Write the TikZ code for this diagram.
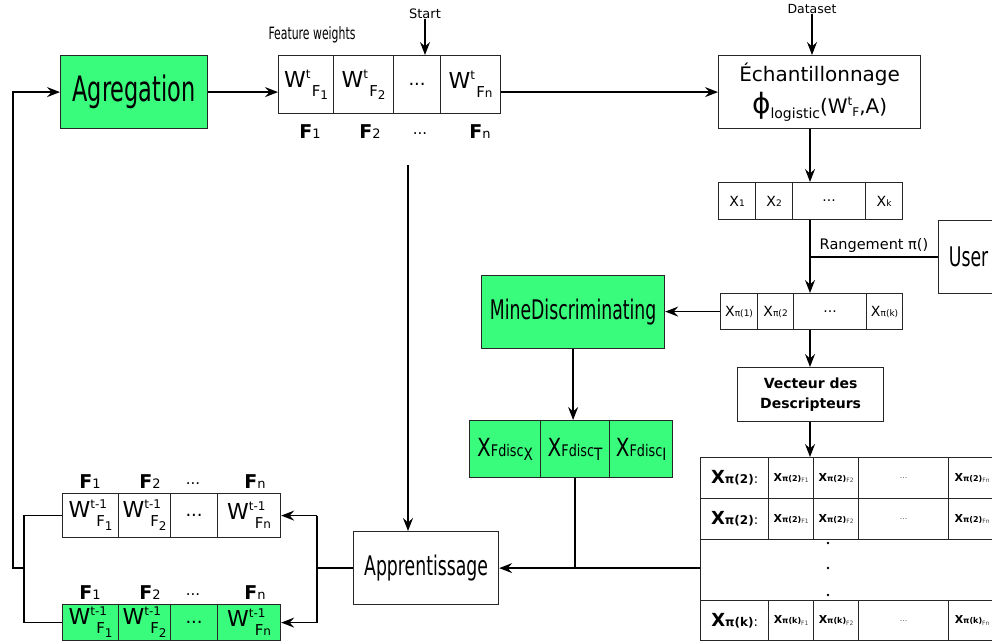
\documentclass[tikz,border=0pt]{standalone}
\usepackage{fontspec}
\setmainfont{DejaVu Sans}
\newfontfamily\narrowfont[FakeStretch=0.64]{DejaVu Sans}
\newfontfamily\midfont[FakeStretch=0.8]{DejaVu Sans}
\usetikzlibrary{arrows.meta,positioning}
\definecolor{minegreen}{RGB}{58,252,124}

\newcommand\fsz[1]{\fontsize{#1}{#1}\selectfont}
% W^{sup}_{F idx}, staggered as in the weight arrays
\newcommand\wcell[3]{{\fsz{22}W}\rlap{\raisebox{9pt}{\fsz{12}#1}}\hspace{6pt}\raisebox{-9pt}{\fsz{15}F\raisebox{#3}{\fsz{12}#2}}}
\newcommand\flab[1]{{\fsz{19}\bfseries F}{\fsz{13}#1}}
\newcommand\xlab[1]{{\fsz{14}X}{\fsz{9}#1}}
\newcommand\tcell[2]{{\bfseries{\fsz{11}X}{\fsz{8}π(#1)}}\raisebox{-1.5pt}{\fsz{6}\color{black!75}#2}}
\newcommand\rowlab[1]{{\bfseries{\fsz{18}X}{\fsz{12}π(#1)}}{\fsz{13}:}}
\newcommand\disclab[1]{\midfont{\fsz{25}X}{\fsz{16}Fdisc}\raisebox{-4pt}{\fsz{17}#1}}

\begin{document}
\begin{tikzpicture}[x=1pt, y=-1pt,
    box/.style={draw=black!85, line width=1.2pt, inner sep=0pt, anchor=north west},
    greenbox/.style={box, fill=minegreen},
    link/.style={line width=1.6pt, -{Stealth[length=13pt, width=10pt, inset=4.5pt]}},
    wire/.style={line width=1.6pt},
    lab/.style={inner sep=0pt}]
    \useasboundingbox (0,0) rectangle (992,644);

    % Aggregation and current weights
    \node[greenbox, minimum width=147pt, minimum height=73pt] (agg) at (60,55) {\narrowfont\fsz{35}Agregation};
    \node[box, minimum width=55pt, minimum height=58pt] (fw1) at (278,55) {\wcell{t}{1}{-3pt}};
    \node[box, minimum width=60pt, minimum height=58pt] (fw2) at (333,55) {\wcell{t}{2}{-3pt}};
    \node[box, minimum width=47pt, minimum height=58pt] (fw3) at (393,55) {\fsz{18}...};
    \node[box, minimum width=60pt, minimum height=58pt] (fw4) at (440,55) {\wcell{t}{n}{0pt}};
    \node[lab] (fwlab) at (312,35) {\narrowfont\fsz{17}Feature weights};
    \node[lab] (start) at (425,14) {\fsz{13}Start};
    \node[lab] (fl1) at (310,132) {\flab{1}};
    \node[lab] (fl2) at (370,132) {\flab{2}};
    \node[lab] (fl3) at (420,134) {\fsz{15}...};
    \node[lab] (fl4) at (480,132) {\flab{n}};

    % Sampling
    \node[box, minimum width=202pt, minimum height=73pt, align=center] (ech) at (718,55)
        {{\fsz{20}Échantillonnage}\\[6pt]{\fsz{28}ϕ}\raisebox{-5pt}{\fsz{14}logistic}{\fsz{20}(W}\raisebox{8pt}{\fsz{12}t}\raisebox{-3pt}{\fsz{12}F}{\fsz{20},A)}};
    \node[lab] (dataset) at (812,9) {\fsz{12.5}Dataset};
    \coordinate (spine) at (810,0);

    % Samples and ranking
    \node[box, minimum width=37pt, minimum height=37pt] (x1) at (718,182) {\xlab{1}};
    \node[box, minimum width=37pt, minimum height=37pt] (x2) at (755,182) {\xlab{2}};
    \node[box, minimum width=73pt, minimum height=37pt] (x3) at (792,182) {\fsz{14}...};
    \node[box, minimum width=37pt, minimum height=37pt] (x4) at (865,182) {\xlab{k}};
    \node[box, minimum width=60pt, minimum height=73pt] (user) at (938,220) {\narrowfont\fsz{27}User};
    \node[box, minimum width=37pt, minimum height=36pt] (p1) at (720,293) {\xlab{π(1)}};
    \node[box, minimum width=36pt, minimum height=36pt] (p2) at (757,293) {\xlab{π(2}};
    \node[box, minimum width=73pt, minimum height=36pt] (p3) at (793,293) {\fsz{14}...};
    \node[box, minimum width=36pt, minimum height=36pt] (p4) at (866,293) {\xlab{π(k)}};

    % Discriminating features
    \node[greenbox, minimum width=183pt, minimum height=73pt] (mine) at (481,275) {\narrowfont\fsz{27}MineDiscriminating};
    \node[greenbox, minimum width=71pt, minimum height=57pt] (d1) at (469,420) {\disclab{X}};
    \node[greenbox, minimum width=69pt, minimum height=57pt] (d2) at (540,420) {\disclab{T}};
    \node[greenbox, minimum width=63pt, minimum height=57pt] (d3) at (609,420) {\disclab{I}};

    % Descriptor table
    \node[box, minimum width=146pt, minimum height=54pt, align=center, font={\fsz{14}\bfseries}] (vec) at (737,367) {Vecteur des\\[6pt]Descripteurs};
    \foreach \r/\ty/\h/\k in {1/457/41/2, 2/498/41/2, 3/600/40/k} {
        \node[box, minimum width=68pt, minimum height=\h pt] (t\r-a) at (700,\ty) {\rowlab{\k}};
        \node[box, minimum width=45pt, minimum height=\h pt] (t\r-b) at (768,\ty) {\tcell{\k}{F1}};
        \node[box, minimum width=45pt, minimum height=\h pt] (t\r-c) at (813,\ty) {\tcell{\k}{F2}};
        \node[box, minimum width=90pt, minimum height=\h pt] (t\r-d) at (858,\ty) {\fsz{8}\color{black!60}...};
        \node[box, minimum width=47pt, minimum height=\h pt] (t\r-e) at (948,\ty) {\tcell{\k}{Fn}};
    }
    \node[box, minimum width=295pt, minimum height=61pt] (tdots) at (700,539) {};
    \foreach \dy in {543,568,595}
        \fill (828,\dy) circle (1.3pt);

    % Learning and previous weights
    \node[box, minimum width=145pt, minimum height=73pt] (appr) at (353,531) {\narrowfont\fsz{27}Apprentissage};
    \foreach \row/\ty/\h/\fill in {u/493/44/white, l/604/36/minegreen} {
        \node[box, fill=\fill, minimum width=56pt, minimum height=\h pt] (\row1) at (62,\ty) {\wcell{t-1}{1}{-4pt}};
        \node[box, fill=\fill, minimum width=52pt, minimum height=\h pt] (\row2) at (118,\ty) {\wcell{t-1}{2}{-4pt}};
        \node[box, fill=\fill, minimum width=47pt, minimum height=\h pt] (\row3) at (170,\ty) {\fsz{18}...};
        \node[box, fill=\fill, minimum width=63pt, minimum height=\h pt] (\row4) at (217,\ty) {\wcell{t-1}{n}{0pt}};
        \node[lab] (\row fl1) at (90,\ty-11) {\flab{1}};
        \node[lab] (\row fl2) at (150,\ty-11) {\flab{2}};
        \node[lab] (\row fl3) at (193,\ty-9) {\fsz{15}...};
        \node[lab] (\row fl4) at (255,\ty-11) {\flab{n}};
    }
    \coordinate (rjoin) at (317,0);
    \coordinate (ljoin) at (24,0);
    \coordinate (lback) at (13,0);
    \coordinate (learnstart) at (408,165);

    % Connectors
    \draw[link] (agg.east) -- (agg.east -| fw1.west);
    \draw[link] (start.south) -- (start.south |- fw3.north);
    \draw[link] (fw4.east |- ech.west) -- (ech.west);
    \draw[link] (dataset.south) -- (dataset.south |- ech.north);
    \draw[link] (spine |- ech.south) -- (spine |- x3.north);
    \draw[link] (spine |- x3.south) -- (spine |- p3.north);
    \draw[wire] (spine |- user.west) -- (user.west) node[lab, midway, above=4pt] {\fsz{14.5}Rangement π()};
    \draw[link] (p1.west) -- (p1.west -| mine.east);
    \draw[link] (mine.south) -- (mine.south |- d2.north);
    \draw[link] (spine |- p3.south) -- (spine |- vec.north);
    \draw[link] (spine |- vec.south) -- (spine |- t1-c.north);
    \draw[link] (tdots.west |- appr.east) -- (appr.east);
    \draw[wire] (d2.south) -- (d2.south |- appr.east);
    \draw[link] (learnstart) -- (learnstart |- appr.north);
    \draw[wire] (appr.west) -- (rjoin |- appr.west);
    \draw[wire] (rjoin |- u4.east) -- (rjoin |- l4.east);
    \draw[link] (rjoin |- u4.east) -- (u4.east);
    \draw[link] (rjoin |- l4.east) -- (l4.east);
    \draw[wire] (u1.west) -- (ljoin |- u1.west) -- (ljoin |- l1.west) -- (l1.west);
    \draw[link] (ljoin |- appr.west) -- (lback |- appr.west) -- (lback |- agg.west) -- (agg.west);
\end{tikzpicture}
\end{document}
